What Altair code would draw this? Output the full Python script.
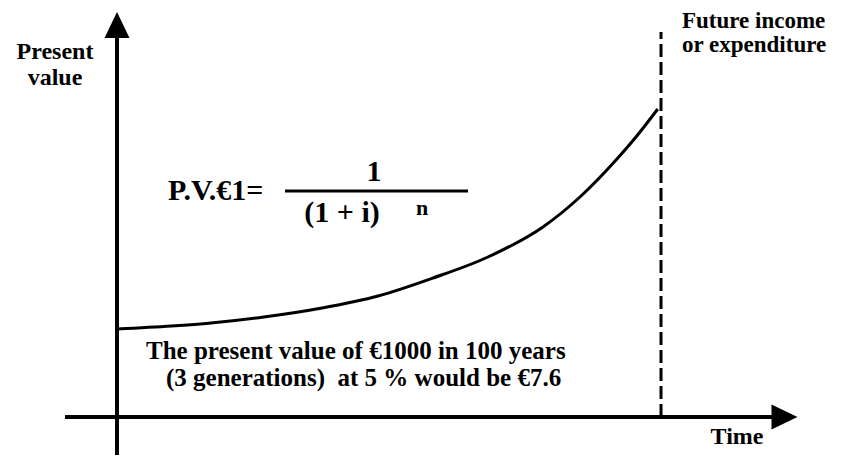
import altair as alt
import pandas as pd

# ---- data: discount curve (time, present value) in diagram units ----
curve_t = [0, 10, 17.3, 27, 37.7, 48, 58.1, 68.2, 78.3, 85.1, 91.9, 95.4, 99.4]
curve_v = [88, 91, 94, 100, 109, 121, 139, 160, 190, 220, 258, 280, 308]

# ---- text labels ----
label_texts = [
    "Present", "value",
    "Future income", "or expenditure",
    "P.V.€1=", "1", "(1 + i)", "n",
    "The present value of €1000 in 100 years",
    "(3 generations)\u00a0 at 5 % would be €7.6",
    "Time",
]

# ---- layout helpers (pixel -> diagram units) ----
W, H = 827, 447
X0, PXU = 117, 5.44          # origin pixel and pixels per time unit
Y0 = 417                      # origin pixel (vertical)


def tx(px):
    return (px - X0) / PXU


def vy(py):
    return Y0 - py


XDOM = [tx(8), tx(8 + W)]
YDOM = [vy(8 + H), vy(8)]

xs = alt.Scale(domain=XDOM, nice=False, zero=False)
ys = alt.Scale(domain=YDOM, nice=False, zero=False)

FONT = "Liberation Serif, Times New Roman, serif"

curve_df = pd.DataFrame({"t": curve_t, "v": curve_v})
curve = alt.Chart(curve_df).mark_line(color="black", strokeWidth=3, interpolate="monotone").encode(
    x=alt.X("t:Q", scale=xs, axis=None),
    y=alt.Y("v:Q", scale=ys, axis=None),
)

# axes lines
axes_df = pd.DataFrame({
    "x": [0, tx(65)], "x2": [0, tx(773)],
    "y": [vy(470), 0], "y2": [vy(36), 0],
})
axes = alt.Chart(axes_df).mark_rule(color="black", strokeWidth=4).encode(
    x=alt.X("x:Q", scale=xs, axis=None), x2="x2:Q",
    y=alt.Y("y:Q", scale=ys, axis=None), y2="y2:Q",
)

dash_df = pd.DataFrame({"x": [tx(661)], "y": [0], "y2": [vy(32)]})
dashed = alt.Chart(dash_df).mark_rule(color="black", strokeWidth=3, strokeDash=[13, 5]).encode(
    x=alt.X("x:Q", scale=xs, axis=None),
    y=alt.Y("y:Q", scale=ys, axis=None), y2="y2:Q",
)

frac_df = pd.DataFrame({"x": [tx(285)], "x2": [tx(468)], "y": [vy(191)]})
frac = alt.Chart(frac_df).mark_rule(color="black", strokeWidth=3).encode(
    x=alt.X("x:Q", scale=xs, axis=None), x2="x2:Q",
    y=alt.Y("y:Q", scale=ys, axis=None),
)

# arrow heads
up_df = pd.DataFrame({"x": [0], "y": [vy(25)]})
up = alt.Chart(up_df).mark_point(
    shape="M0,-1L-0.96,1L0.96,1Z", filled=True, size=676, color="black", opacity=1, strokeWidth=0
).encode(x=alt.X("x:Q", scale=xs, axis=None), y=alt.Y("y:Q", scale=ys, axis=None))

right_df = pd.DataFrame({"x": [tx(784.5)], "y": [0]})
right = alt.Chart(right_df).mark_point(
    shape="M1,0L-1,-0.96L-1,0.96Z", filled=True, size=676, color="black", opacity=1, strokeWidth=0
).encode(x=alt.X("x:Q", scale=xs, axis=None), y=alt.Y("y:Q", scale=ys, axis=None))

# text placements
pos_px = [
    (55, 52, "center"), (55, 78, "center"),
    (682, 21, "left"), (682, 45, "left"),
    (168, 191, "left"), (374, 172, "center"), (342, 213, "center"), (422, 208, "center"),
    (146, 351, "left"), (166, 378, "left"),
    (737, 437, "center"),
]
sizes = [24, 24, 23, 23, 30, 30, 30, 22, 25, 25, 24]

layers = []
for (px, py, al), txt, fs in zip(pos_px, label_texts, sizes):
    d = pd.DataFrame({"x": [tx(px)], "y": [vy(py)], "label": [txt]})
    layers.append(
        alt.Chart(d).mark_text(font=FONT, fontWeight="bold", fontSize=fs, align=al,
                               baseline="middle", color="black").encode(
            x=alt.X("x:Q", scale=xs, axis=None),
            y=alt.Y("y:Q", scale=ys, axis=None),
            text="label:N",
        )
    )

chart = alt.layer(axes, dashed, frac, curve, up, right, *layers).properties(
    width=W, height=H, autosize=alt.AutoSizeParams(type="none"), padding=0, background="white"
).configure_view(stroke=None)

chart.save("out.html", embed_options={"renderer": "svg", "actions": False})
